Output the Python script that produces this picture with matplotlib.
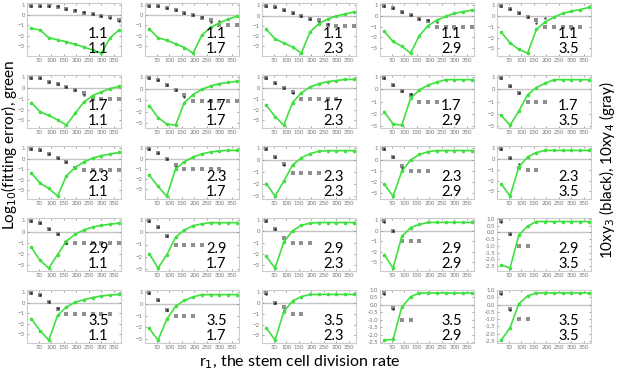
import numpy as np
import matplotlib
matplotlib.use("Agg")
import matplotlib.pyplot as plt

# ---------------- data ----------------
r1 = [20, 55, 90, 125, 160, 195, 230, 265, 300, 335, 370]
row_vals = ["1.1", "1.7", "2.3", "2.9", "3.5"]
col_vals = ["1.1", "1.7", "2.3", "2.9", "3.5"]
n = np.nan

# log10 fitting error (green), one list per panel [row][col]
green = [
    [[-1.3, -1.45, -2.2, -2.4, -2.6, -2.85, -3.1, -3.4, -3.7, -2.2, -1.45],
     [-1.35, -2.2, -2.45, -2.8, -3.15, -3.7, -1.95, -1.2, -0.75, -0.4, -0.1],
     [-1.35, -2.3, -2.7, -3.1, -3.7, -1.6, -0.8, -0.35, -0.05, 0.15, 0.35],
     [-1.45, -2.4, -2.85, -3.5, -1.85, -0.9, -0.4, -0.05, 0.25, 0.4, 0.55],
     [-1.5, -2.5, -3.1, -3.45, -1.25, -0.55, -0.1, 0.25, 0.45, 0.6, 0.8]],
    [[-1.35, -2.2, -2.55, -2.95, -3.45, -2.35, -1.3, -0.7, -0.35, -0.05, 0.15],
     [-1.45, -2.5, -3.05, -3.15, -1.2, -0.5, -0.05, 0.25, 0.45, 0.55, 0.65],
     [-1.6, -2.65, -3.45, -1.35, -0.45, 0.1, 0.4, 0.6, 0.7, 0.8, 0.8],
     [-1.85, -2.85, -2.95, -0.75, -0.05, 0.35, 0.6, 0.8, 0.8, 0.8, 0.8],
     [-2.15, -2.95, -1.8, -0.45, 0.15, 0.5, 0.8, 0.8, 0.8, 0.8, 0.8]],
    [[-1.35, -2.35, -2.85, -3.6, -1.65, -0.85, -0.3, 0.05, 0.3, 0.45, 0.6],
     [-1.6, -2.7, -3.65, -1.0, -0.3, 0.15, 0.45, 0.65, 0.75, 0.8, 0.8],
     [-1.95, -3.0, -1.75, -0.4, 0.2, 0.55, 0.75, 0.8, 0.8, 0.8, 0.8],
     [-2.2, -3.25, -1.05, -0.05, 0.45, 0.7, 0.8, 0.8, 0.8, 0.8, 0.8],
     [-2.3, -3.45, -0.75, 0.2, 0.6, 0.8, 0.8, 0.8, 0.8, 0.8, 0.8]],
    [[-1.4, -2.55, -3.25, -2.05, -0.85, -0.25, 0.15, 0.4, 0.55, 0.65, 0.75],
     [-1.75, -2.95, -1.85, -0.4, 0.2, 0.55, 0.7, 0.8, 0.8, 0.8, 0.8],
     [-2.25, -3.3, -0.95, 0.05, 0.55, 0.75, 0.8, 0.8, 0.8, 0.8, 0.8],
     [-2.3, -3.6, -0.55, 0.3, 0.6, 0.8, 0.8, 0.8, 0.8, 0.8, 0.8],
     [-2.4, -2.65, -0.2, 0.45, 0.8, 0.8, 0.8, 0.8, 0.8, 0.8, 0.8]],
    [[-1.5, -2.65, -3.55, -1.2, -0.4, 0.05, 0.3, 0.5, 0.65, 0.75, 0.8],
     [-2.1, -3.1, -1.3, -0.2, 0.3, 0.6, 0.8, 0.8, 0.8, 0.8, 0.8],
     [-2.3, -3.45, -0.8, 0.2, 0.6, 0.8, 0.8, 0.8, 0.8, 0.8, 0.8],
     [-2.35, -2.3, -0.15, 0.55, 0.8, 0.8, 0.8, 0.8, 0.8, 0.8, 0.8],
     [-2.45, -1.6, 0.05, 0.6, 0.8, 0.8, 0.8, 0.8, 0.8, 0.8, 0.8]],
]

# 10*xy4 (gray)
gray = [
    [[0.9, 0.9, 0.9, 0.75, 0.55, 0.4, 0.25, 0.1, -0.05, -0.2, -0.45],
     [0.9, 0.9, 0.65, 0.45, 0.2, 0.0, -0.25, -0.45, -1.0, -1.0, -1.0],
     [0.95, 0.85, 0.5, 0.2, -0.05, -0.3, -0.45, -0.95, -1.0, -1.0, -1.0],
     [0.95, 0.75, 0.35, 0.05, -0.3, -0.5, -1.0, -1.0, -1.0, -1.0, -1.0],
     [0.95, 0.7, 0.25, -0.1, -0.4, -1.0, -1.0, -1.0, -1.0, -1.0, n]],
    [[0.95, 0.95, 0.6, 0.35, 0.1, -0.15, -0.5, -1.05, -1.05, -1.05, -1.05],
     [0.95, 0.75, 0.3, -0.1, -0.5, -1.05, -1.05, -1.05, -1.05, -1.05, -1.05],
     [0.95, 0.5, 0.05, -0.4, -1.0, -1.0, -1.0, -1.0, -1.0, n, n],
     [0.95, 0.4, -0.1, -0.5, -1.05, -1.05, -1.05, n, n, n, n],
     [0.95, 0.3, -0.3, -1.0, -1.0, -1.0, n, n, n, n, n]],
    [[0.95, 0.8, 0.45, 0.1, -0.3, -0.9, -1.05, -1.05, -1.05, -1.05, -1.05],
     [0.95, 0.55, 0.0, -0.6, -1.05, -1.05, -1.05, -1.05, -1.05, n, n],
     [0.95, 0.3, -0.35, -1.05, -1.05, -1.05, -1.05, n, n, n, n],
     [0.95, 0.2, -0.55, -1.05, -1.05, -1.05, n, n, n, n, n],
     [0.95, 0.1, -0.8, -1.05, -1.05, n, n, n, n, n, n]],
    [[0.95, 0.75, 0.25, -0.25, -1.0, -1.05, -1.05, -1.05, -1.05, -1.05, -1.05],
     [0.95, 0.45, -0.3, -1.0, -1.0, -1.0, -1.0, n, n, n, n],
     [0.95, 0.2, -0.6, -1.05, -1.05, -1.05, n, n, n, n, n],
     [0.95, 0.0, -1.0, -1.0, -1.0, n, n, n, n, n, n],
     [0.85, -0.15, -1.0, -1.0, n, n, n, n, n, n, n]],
    [[0.95, 0.7, 0.05, -0.55, -1.05, -1.05, -1.05, -1.05, -1.05, -1.05, n],
     [0.95, 0.3, -0.5, -1.05, -1.05, -1.05, n, n, n, n, n],
     [0.95, 0.0, -0.4, -1.0, -1.0, n, n, n, n, n, n],
     [0.8, -0.2, -1.0, -1.0, n, n, n, n, n, n, n],
     [0.8, -0.3, -1.0, -1.0, n, n, n, n, n, n, n]],
]

# 10*xy3 (black)
black = [
    [[0.9, 0.9, 0.9, 0.85, 0.6, 0.45, 0.3, 0.1, -0.05, -0.25, -0.6],
     [0.9, 0.9, 0.7, 0.5, 0.2, 0.0, -0.2, -0.7, -0.55, n, n],
     [0.95, 0.85, 0.5, 0.2, -0.05, -0.35, -0.6, -0.85, n, n, n],
     [0.95, 0.75, 0.35, 0.05, -0.3, -0.35, -0.6, n, n, n, n],
     [0.95, 0.7, 0.25, -0.1, -0.6, -0.2, n, n, n, n, n]],
    [[0.95, 0.95, 0.6, 0.35, 0.1, -0.15, -0.65, n, n, n, n],
     [0.95, 0.75, 0.3, -0.1, -0.7, n, n, n, n, n, n],
     [0.95, 0.5, 0.05, -0.5, n, n, n, n, n, n, n],
     [0.95, 0.4, -0.1, -0.4, n, n, n, n, n, n, n],
     [0.95, 0.3, -0.3, -0.45, n, n, n, n, n, n, n]],
    [[0.95, 0.8, 0.45, 0.1, -0.3, -0.85, n, n, n, n, n],
     [0.95, 0.55, 0.0, -0.8, n, n, n, n, n, n, n],
     [0.95, 0.3, -0.4, n, n, n, n, n, n, n, n],
     [0.95, 0.2, -0.75, n, n, n, n, n, n, n, n],
     [0.95, 0.1, -0.45, n, n, n, n, n, n, n, n]],
    [[0.95, 0.75, 0.25, -0.25, -1.0, n, n, n, n, n, n],
     [0.95, 0.45, -0.3, n, n, n, n, n, n, n, n],
     [0.95, 0.2, -0.85, n, n, n, n, n, n, n, n],
     [0.85, 0.0, n, n, n, n, n, n, n, n, n],
     [0.75, -0.15, n, n, n, n, n, n, n, n, n]],
    [[0.95, 0.7, 0.05, -0.5, n, n, n, n, n, n, n],
     [0.95, 0.3, -0.5, n, n, n, n, n, n, n, n],
     [0.85, 0.0, -0.6, n, n, n, n, n, n, n, n],
     [0.7, -0.25, n, n, n, n, n, n, n, n, n],
     [0.7, -0.4, n, n, n, n, n, n, n, n, n]],
]

# ---------------- figure ----------------
W, H = 617, 371
fig = plt.figure(figsize=(W / 100, H / 100), dpi=100)
plt.rcParams['font.family'] = ['Lato', 'DejaVu Sans']

lefts = [27, 145, 262, 380, 497]
tops = [3, 75, 146, 218, 290]
pw, ph = 94, 53

GREEN = '#40e040'
FRAME = '#cccccc'
TICKC = '#777777'

for i in range(5):
    for j in range(5):
        ax = fig.add_axes([lefts[j] / W, 1 - (tops[i] + ph) / H, pw / W, ph / H])
        g = np.array(green[i][j], float)
        gr = np.array(gray[i][j], float)
        bk = np.array(black[i][j], float)
        allv = np.concatenate([g, gr[~np.isnan(gr)], bk[~np.isnan(bk)]])
        lo, hi = allv.min(), allv.max()
        span = hi - lo
        ax.set_ylim(lo - 0.06 * span, hi + 0.06 * span)
        ax.set_xlim(3, 378)
        ax.axhline(0, color='#c4c4c4', lw=1.0, zorder=1)
        ax.plot(r1, gr, ls='none', marker='s', ms=2.2, mew=0, color='#8f8f8f', zorder=3)
        ax.plot(r1, bk, ls='none', marker='o', ms=1.8, mew=0, color='#000000', alpha=0.7, zorder=4)
        ax.plot(r1, g, color=GREEN, lw=1.2, marker='o', ms=2.6, mew=0, zorder=5)
        ax.set_xticks([50, 100, 150, 200, 250, 300, 350])
        if span < 3.6:
            ax.set_yticks(np.arange(-2.5, 1.01, 0.5))
            ax.set_yticklabels([f"{v:.1f}" for v in np.arange(-2.5, 1.01, 0.5)])
        else:
            ax.set_yticks([-3, -2, -1, 0, 1])
        ax.tick_params(labelsize=4.3, colors=TICKC, length=1.5, width=0.5,
                       direction='in', pad=1.5, top=True, right=True)
        for s in ax.spines.values():
            s.set_color(FRAME)
            s.set_linewidth(0.8)
        ax.text(0.76, 0.42, row_vals[i], transform=ax.transAxes, fontsize=10.5,
                ha='center', va='center', color='black', zorder=6)
        ax.text(0.76, 0.13, col_vals[j], transform=ax.transAxes, fontsize=10.5,
                ha='center', va='center', color='black', zorder=6)

fig.text(300 / W, 1 - 362 / H, "r$_1$, the stem cell division rate", ha='center',
         va='center', fontsize=11.5)
fig.text(9 / W, 1 - 145 / H, "Log$_{10}$(fitting error), green", ha='center',
         va='center', rotation=90, fontsize=11)
fig.text(607 / W, 1 - 170 / H, "10xy$_3$ (black), 10xy$_4$ (gray)", ha='center',
         va='center', rotation=90, fontsize=11)

fig.savefig("out.png", dpi=100)
